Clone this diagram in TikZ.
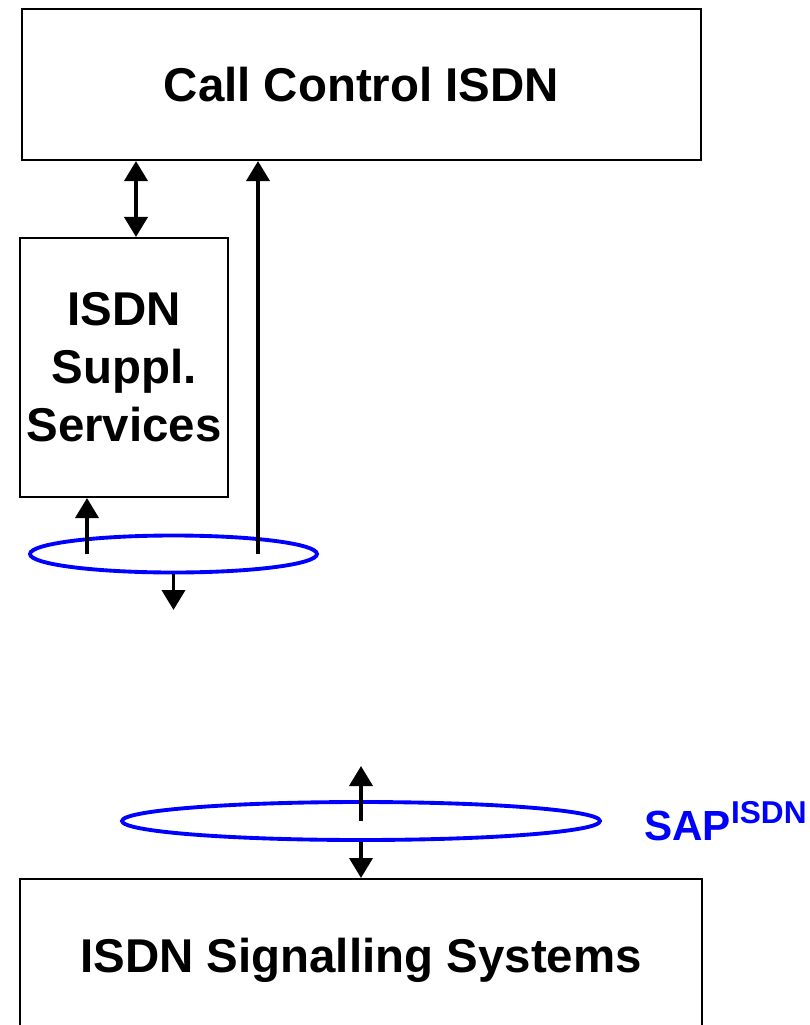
\documentclass[tikz,border=0pt]{standalone}
\usepackage{fontspec}
\setmainfont{Liberation Sans}
\usetikzlibrary{shapes.geometric,arrows.meta}
\begin{document}
\begin{tikzpicture}[x=0.02cm,y=-0.02cm,
	box/.style={draw,line width=1.2pt,inner sep=0pt,align=center,font=\fontsize{27}{33}\selectfont\bfseries},
	sap/.style={draw=blue,ellipse,line width=2.2pt,inner sep=0pt},
	arr/.style={line width=2.2pt,-{Triangle[length=0.4cm,width=0.46cm]}},
	dblarr/.style={line width=2.2pt,{Triangle[length=0.4cm,width=0.46cm]}-{Triangle[length=0.4cm,width=0.46cm]}}]
	\clip (0,0) rectangle (810,1025);
	\node[box,minimum width=13.58cm,minimum height=3.02cm] (cc) at (361.5,84.5) {Call Control ISDN};
	\node[box,minimum width=4.16cm,minimum height=5.18cm] (supp) at (124,367.5) {ISDN\\Suppl.\\Services};
	\node[box,minimum width=13.64cm,minimum height=3.24cm,anchor=north] (sig) at (361,878) {ISDN Signalling Systems};
	\node[sap,minimum width=5.74cm,minimum height=0.74cm] (e1) at (173.5,554) {};
	\node[sap,minimum width=9.56cm,minimum height=0.76cm] (e2) at (361,821) {};
	\node[anchor=base west,text=blue,inner sep=0pt,font=\fontsize{24}{28}\selectfont\bfseries] (saplbl) at (644,840) {SAP\raisebox{0.34cm}{\fontsize{18}{21}\selectfont ISDN}};
	\coordinate (xa) at (136,0);
	\coordinate (xb) at (87,0);
	\coordinate (xc) at (258,0);
	\coordinate (out1) at (173.5,610);
	\coordinate (in2) at (361,766);
	\draw[dblarr] (cc.south -| xa) -- (supp.north -| xa);
	\draw[arr] (e1.center -| xb) -- (supp.south -| xb);
	\draw[arr] (e1.center -| xc) -- (cc.south -| xc);
	\draw[arr] (e1.south) -- (out1);
	\draw[arr] (e2.center) -- (in2);
	\draw[arr] (e2.south) -- (sig.north);
\end{tikzpicture}
\end{document}
